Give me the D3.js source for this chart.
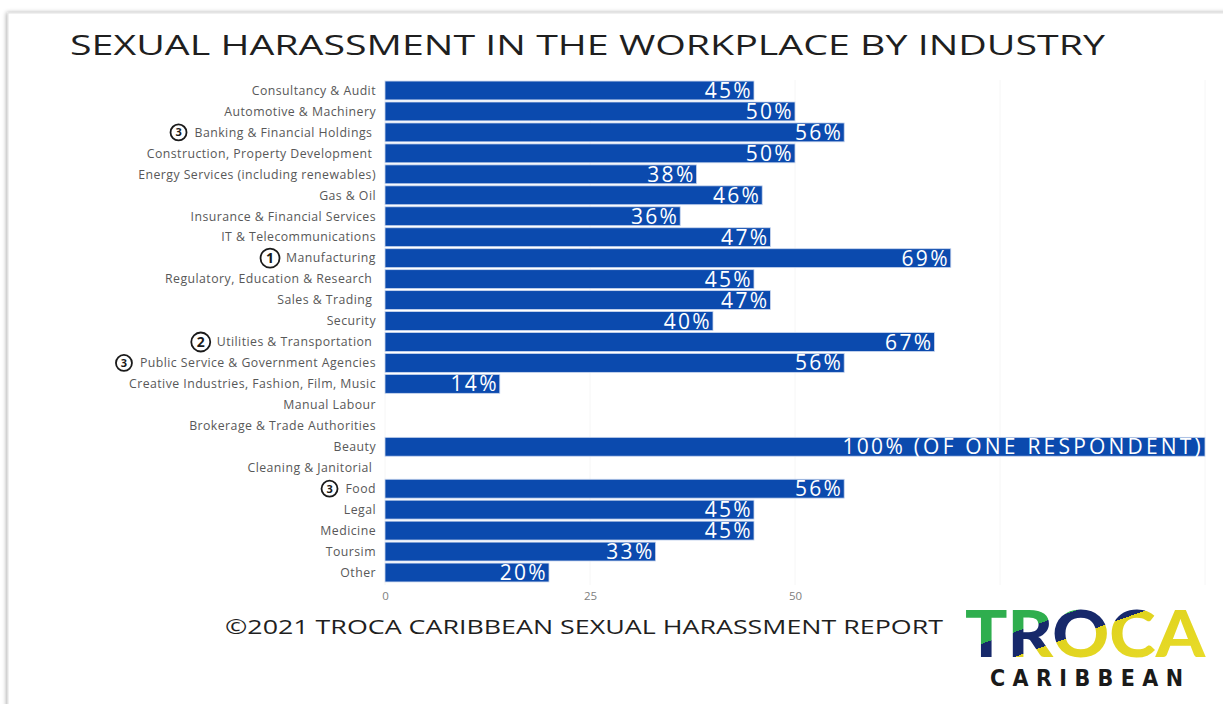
<!DOCTYPE html>
<html>
<head>
<meta charset="utf-8">
<script src="https://cdn.jsdelivr.net/npm/d3@7"></script>
<style>
  html, body { margin: 0; padding: 0; background: #ffffff; }
  svg { display: block; }
  .cat { font-family: "Open Sans", Lato, sans-serif; font-size: 12.3px; letter-spacing: 0.45px; fill: #585858; white-space: pre; }
  .val { font-family: "Open Sans", Lato, sans-serif; font-size: 21px; font-weight: 500; fill: #ffffff; letter-spacing: 2.3px; }
  .val .note { letter-spacing: 3.2px; }
  .tick text { font-family: "Open Sans", Lato, sans-serif; font-size: 11.5px; fill: #808080; }
</style>
</head>
<body>
<svg id="chart" width="1223" height="704"></svg>
<script>
// Industries, top to bottom
const categories = [
  "Consultancy & Audit",
  "Automotive & Machinery",
  "Banking & Financial Holdings ",
  "Construction, Property Development ",
  "Energy Services (including renewables)",
  "Gas & Oil",
  "Insurance & Financial Services",
  "IT & Telecommunications",
  "Manufacturing",
  "Regulatory, Education & Research ",
  "Sales & Trading ",
  "Security",
  "Utilities & Transportation ",
  "Public Service & Government Agencies",
  "Creative Industries, Fashion, Film, Music",
  "Manual Labour",
  "Brokerage & Trade Authorities",
  "Beauty",
  "Cleaning & Janitorial ",
  "Food",
  "Legal",
  "Medicine",
  "Toursim",
  "Other"
];

// Share of respondents reporting harassment (%); null = no responses
const values = [45, 50, 56, 50, 38, 46, 36, 47, 69, 45, 47, 40, 67, 56, 14, null, null, 100, null, 56, 45, 45, 33, 20];

// Ranking badges shown beside a few industries
const ranks = [null, null, 3, null, null, null, null, null, 1, null, null, null, 2, 3, null, null, null, null, null, 3, null, null, null, null];

// Label suffix for the single-respondent industry
const valueNotes = { "Beauty": " (OF ONE RESPONDENT)" };

const xTicks = [0, 25, 50];
const gridTicks = [0, 25, 50, 75, 100];

const title = "SEXUAL HARASSMENT IN THE WORKPLACE BY INDUSTRY";
const footer = "\u00A92021 TROCA CARIBBEAN SEXUAL HARASSMENT REPORT";

const svg = d3.select("#chart");
const defs = svg.append("defs");

// Card with soft shadow
const shadow = defs.append("filter").attr("id", "cardShadow")
  .attr("x", "-5%").attr("y", "-5%").attr("width", "110%").attr("height", "110%");
shadow.append("feDropShadow").attr("dx", -1).attr("dy", 0).attr("stdDeviation", 2)
  .attr("flood-color", "#000").attr("flood-opacity", 0.35);

svg.append("rect")
  .attr("x", 8).attr("y", 13).attr("width", 1260).attr("height", 740)
  .attr("fill", "#ffffff").attr("stroke", "#e2e2e2").attr("stroke-width", 1)
  .attr("filter", "url(#cardShadow)");

// Title
svg.append("text")
  .attr("x", 70).attr("y", 55)
  .attr("textLength", 1035).attr("lengthAdjust", "spacingAndGlyphs")
  .style("font-family", "'Open Sans', Lato, sans-serif")
  .style("font-size", "28px").style("fill", "#1f1f1f")
  .text(title);

// Scales
const x = d3.scaleLinear().domain([0, 100]).range([385, 1205]);
const y = d3.scaleBand().domain(categories).range([80, 583]).paddingInner(0.1).paddingOuter(0.05);

// Gridlines
svg.append("g").selectAll("line").data(gridTicks).join("line")
  .attr("x1", d => x(d)).attr("x2", d => x(d))
  .attr("y1", 80).attr("y2", 585)
  .attr("stroke", "#f6f6f6").attr("stroke-width", 1);

// Axis ticks
const axis = d3.axisBottom(x).tickValues(xTicks).tickSize(0).tickPadding(7);
const ax = svg.append("g").attr("transform", "translate(0,585)").call(axis);
ax.select(".domain").remove();

// Bars
const rows = categories.map((c, i) => ({ cat: c, v: values[i], rank: ranks[i] }));

svg.append("g").selectAll("rect").data(rows.filter(d => d.v != null)).join("rect")
  .attr("x", x(0))
  .attr("y", d => y(d.cat))
  .attr("width", d => x(d.v) - x(0))
  .attr("height", y.bandwidth())
  .attr("fill", "#0b4aae")
  .attr("stroke", "#c9d6ee").attr("stroke-width", 0.8);

// Value labels inside bar ends
const vals = svg.append("g").selectAll("text").data(rows.filter(d => d.v != null)).join("text")
  .attr("class", "val")
  .attr("x", d => x(d.v) - 1)
  .attr("y", d => y(d.cat) + y.bandwidth() / 2)
  .attr("dy", "0.36em")
  .attr("text-anchor", "end");
vals.append("tspan").text(d => d.v + "%");
vals.filter(d => valueNotes[d.cat.trim()])
  .append("tspan").attr("class", "note")
  .style("white-space", "pre")
  .text(d => valueNotes[d.cat.trim()]);

// Category labels
const labels = svg.append("g").selectAll("text").data(rows).join("text")
  .attr("class", "cat")
  .attr("x", 376)
  .attr("y", d => y(d.cat) + y.bandwidth() / 2)
  .attr("dy", "0.35em")
  .attr("text-anchor", "end")
  .text(d => d.cat);

// Rank badges before labels
labels.each(function(d) {
  if (d.rank == null) return;
  const w = this.getComputedTextLength();
  const cx = 376 - w - 16;
  const cy = y(d.cat) + y.bandwidth() / 2;
  const g = svg.append("g");
  g.append("circle").attr("cx", cx).attr("cy", cy).attr("r", d.rank === 3 ? 8 : 9.5)
    .attr("fill", "#fff").attr("stroke", "#1a1a1a").attr("stroke-width", 1.8);
  g.append("text").attr("x", cx).attr("y", cy).attr("dy", "0.36em")
    .attr("text-anchor", "middle")
    .style("font-family", "'Open Sans', sans-serif").style("font-weight", 700)
    .style("font-size", d.rank === 3 ? "11px" : "14px").style("fill", "#1a1a1a")
    .text(d.rank);
});

// Footer
svg.append("text")
  .attr("x", 225).attr("y", 634)
  .attr("textLength", 718).attr("lengthAdjust", "spacingAndGlyphs")
  .style("font-family", "'Open Sans', Lato, sans-serif")
  .style("font-size", "20px").style("fill", "#1f1f1f")
  .text(footer);

// Logo wordmark
const lg = defs.append("linearGradient").attr("id", "trocaFill")
  .attr("x1", "0").attr("y1", "0").attr("x2", "1").attr("y2", "0.9");
[["0", "#2fae4e"], ["0.36", "#2fae4e"], ["0.36", "#17296b"], ["0.52", "#17296b"],
 ["0.52", "#e0d31e"], ["1", "#e9dc2a"]].forEach(([o, c]) =>
  lg.append("stop").attr("offset", o).attr("stop-color", c));

svg.append("text")
  .attr("x", 965).attr("y", 657)
  .attr("textLength", 240).attr("lengthAdjust", "spacingAndGlyphs")
  .style("font-family", "Lato, 'Open Sans', sans-serif").style("font-weight", 900)
  .style("font-size", "64px").attr("fill", "url(#trocaFill)")
  .text("TROCA");

svg.append("text")
  .attr("x", 990).attr("y", 686)
  .attr("textLength", 193).attr("lengthAdjust", "spacing")
  .style("font-family", "'DejaVu Sans Condensed', 'DejaVu Sans', sans-serif").style("font-weight", 700)
  .style("font-size", "23px").style("fill", "#1a1a1a")
  .text("CARIBBEAN");
</script>
</body>
</html>
